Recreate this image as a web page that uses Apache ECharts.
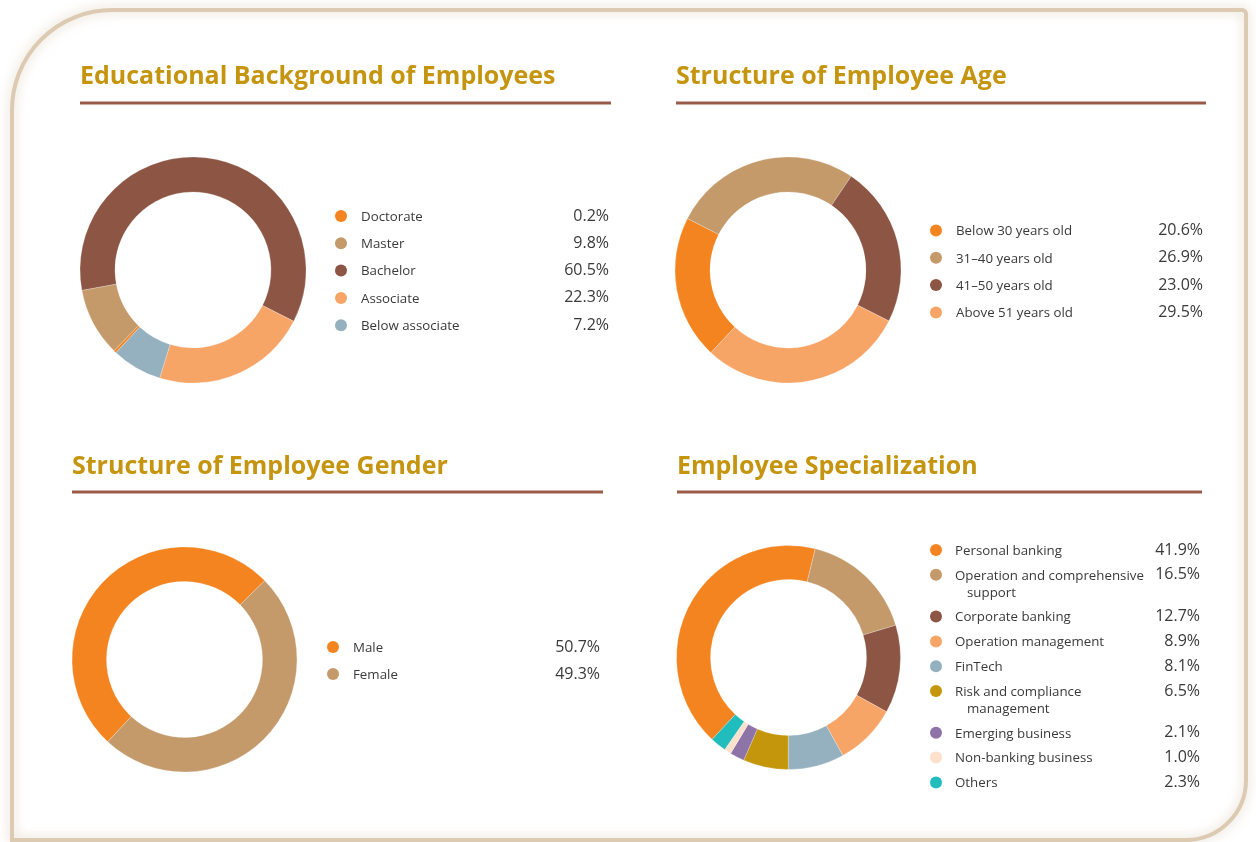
<!DOCTYPE html>
<html>
<head>
<meta charset="utf-8">
<title>Employee Structure</title>
<script src="https://cdn.jsdelivr.net/npm/echarts@6/dist/echarts.min.js"></script>
<style>
html, body { margin: 0; padding: 0; background: #fff; }
#chart { width: 1256px; height: 842px; }
</style>
</head>
<body>
<div id="chart"></div>
<script>
// data
const eduNames = ['Doctorate', 'Master', 'Bachelor', 'Associate', 'Below associate'];
const eduValues = [0.2, 9.8, 60.5, 22.3, 7.2];

const ageNames = ['Below 30 years old', '31–40 years old', '41–50 years old', 'Above 51 years old'];
const ageValues = [20.6, 26.9, 23.0, 29.5];

const genderNames = ['Male', 'Female'];
const genderValues = [50.7, 49.3];

const specNames = [
  'Personal banking',
  'Operation and comprehensive\nsupport',
  'Corporate banking',
  'Operation management',
  'FinTech',
  'Risk and compliance\nmanagement',
  'Emerging business',
  'Non-banking business',
  'Others',
];
const specValues = [41.9, 16.5, 12.7, 8.9, 8.1, 6.5, 2.1, 1.0, 2.3];

// palette
const ORANGE = '#f4841f';
const TAN = '#c49a6b';
const BROWN = '#8c5544';
const PEACH = '#f7a467';
const SLATE = '#95b0bf';
const GOLD = '#c4960b';
const PURPLE = '#8d73a7';
const CREAM = '#fde1cc';
const TEAL = '#21bdbc';

const TITLE_COLOR = '#c5950f';
const RULE_COLOR = '#995a49';
const TEXT_COLOR = '#3a3a3a';
const FONT = '"Open Sans", "Noto Sans", sans-serif';

const panels = [
  {
    title: 'Educational Background of Employees', tx: 80, ty: 77,
    rule: [80, 611, 103],
    center: [193, 270], radius: [78, 113], minAngle: 1.4,
    names: eduNames, values: eduValues,
    colors: [ORANGE, TAN, BROWN, PEACH, SLATE],
    dotX: 341, labelX: 361, valueX: 609, rowY: 216, rowGap: 27.3,
  },
  {
    title: 'Structure of Employee Age', tx: 676, ty: 77,
    rule: [676, 1206, 103],
    center: [788, 270], radius: [78, 113], minAngle: 0,
    names: ageNames, values: ageValues,
    colors: [ORANGE, TAN, BROWN, PEACH],
    dotX: 936, labelX: 956, valueX: 1203, rowY: 230.5, rowGap: 27.3,
  },
  {
    title: 'Structure of Employee Gender', tx: 72, ty: 467,
    rule: [72, 603, 492],
    center: [184.5, 659.5], radius: [78, 112.5], minAngle: 0,
    names: genderNames, values: genderValues,
    colors: [ORANGE, TAN],
    dotX: 333, labelX: 353, valueX: 600, rowY: 647, rowGap: 27,
  },
  {
    title: 'Employee Specialization', tx: 677, ty: 467,
    rule: [677, 1202, 492],
    center: [788.5, 657.5], radius: [78, 112], minAngle: 0,
    names: specNames, values: specValues,
    colors: [ORANGE, TAN, BROWN, PEACH, SLATE, GOLD, PURPLE, CREAM, TEAL],
    dotX: 936, labelX: 955, valueX: 1200, rowY: 550, rowGap: 24.8,
  },
];

const chart = echarts.init(document.getElementById('chart'));

const graphics = [
  // page frame with rounded top-left / bottom-right corners
  {
    type: 'rect',
    shape: { x: 12, y: 10, width: 1234, height: 830, r: [100, 4, 60, 0] },
    style: {
      fill: 'none', stroke: '#dccab3', lineWidth: 4,
      shadowBlur: 12, shadowColor: 'rgba(200, 178, 145, 0.6)',
    },
    silent: true,
  },
];

const series = [];

panels.forEach((p) => {
  graphics.push({
    type: 'text', x: p.tx, y: p.ty, silent: true,
    style: {
      text: p.title, fill: TITLE_COLOR, font: `bold 25px ${FONT}`,
      verticalAlign: 'middle',
    },
  });
  graphics.push({
    type: 'line', silent: true,
    shape: { x1: p.rule[0], y1: p.rule[2], x2: p.rule[1], y2: p.rule[2] },
    style: { stroke: RULE_COLOR, lineWidth: 3 },
  });

  let y = p.rowY;
  p.names.forEach((name, i) => {
    const lines = name.split('\n');
    graphics.push({
      type: 'circle', silent: true,
      shape: { cx: p.dotX, cy: y, r: 6 },
      style: { fill: p.colors[i] },
    });
    lines.forEach((ln, k) => {
      graphics.push({
        type: 'text', silent: true,
        x: p.labelX + (k ? 12 : 0), y: y + 1 + k * 17,
        style: { text: ln, fill: TEXT_COLOR, font: `13.3px ${FONT}`, verticalAlign: 'middle' },
      });
    });
    graphics.push({
      type: 'text', silent: true, x: p.valueX, y: y,
      style: {
        text: p.values[i].toFixed(1) + '%', fill: TEXT_COLOR, font: `16px ${FONT}`,
        align: 'right', verticalAlign: 'middle',
      },
    });
    y += p.rowGap + (lines.length - 1) * 17;
  });

  series.push({
    type: 'pie',
    center: p.center,
    radius: p.radius,
    startAngle: 227,
    clockwise: true,
    minAngle: p.minAngle,
    label: { show: false },
    labelLine: { show: false },
    emphasis: { disabled: true },
    itemStyle: { borderColor: 'rgba(255,255,255,0.6)', borderWidth: 0.4 },
    data: p.names.map((n, i) => ({
      name: n.replace('\n', ' '),
      value: p.values[i],
      itemStyle: { color: p.colors[i] },
    })),
  });
});

chart.setOption({
  animation: false,
  backgroundColor: '#fff',
  tooltip: { show: false },
  graphic: graphics,
  series,
});
</script>
</body>
</html>
